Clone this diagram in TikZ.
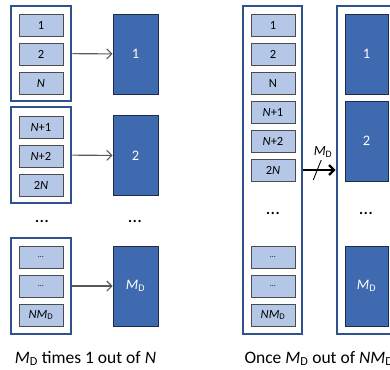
\documentclass[tikz,border=0pt]{standalone}
\usepackage{fontspec}
\setmainfont{Carlito}
\usetikzlibrary{arrows.meta}
\definecolor{framecol}{RGB}{47,82,143}
\definecolor{itemcol}{RGB}{180,199,231}
\definecolor{blockcol}{RGB}{64,106,176}
\definecolor{blockline}{RGB}{30,45,75}
\newcommand{\MDsub}{\textit{M}\textsubscript{D}}
\begin{document}
\begin{tikzpicture}
        [x=1pt, y=-1pt,
         frame_style/.style={draw=framecol, line width=2.6pt, fill=white, inner sep=0pt},
         item_style/.style={rectangle, draw=black!70, fill=itemcol, line width=0.9pt,
                            minimum width=44pt, minimum height=22pt, inner sep=0pt, font=\fontsize{12.5}{13}\selectfont},
         block_style/.style={rectangle, draw=blockline, fill=blockcol, line width=0.9pt,
                             text=white, minimum width=45pt, minimum height=80pt, inner sep=0pt, font=\fontsize{14.5}{15}\selectfont},
         dots_style/.style={font=\fontsize{19}{19}\selectfont},
         edge_style/.style={draw=black!65, line width=1.1pt, -{Straight Barb[length=5pt,width=10pt]}},
         bus_style/.style={draw=black, line width=2.4pt, -{Straight Barb[length=5pt,width=10pt]}}]
            \useasboundingbox (0,0) rectangle (390,369);
            \clip (0,0) rectangle (390,369);
            % left: M_D times 1 out of N
            \node[frame_style, minimum width=60pt, minimum height=95pt] (g1) at (41, 53.5) {};
            \node[frame_style, minimum width=60pt, minimum height=96pt] (g2) at (41, 155) {};
            \node[frame_style, minimum width=60pt, minimum height=96pt] (g3) at (41, 286) {};
            \node[item_style] (a1) at (41, 25)  {1};
            \node[item_style] (a2) at (41, 54)  {2};
            \node[item_style] (a3) at (41, 83)  {\textit{N}};
            \node[item_style] (a4) at (41, 127) {\textit{N}+1};
            \node[item_style] (a5) at (41, 156) {\textit{N}+2};
            \node[item_style] (a6) at (41, 185) {2\textit{N}};
            \node[item_style] (a7) at (41, 257.5) {\footnotesize\ldots};
            \node[item_style] (a8) at (41, 286) {\footnotesize\ldots};
            \node[item_style] (a9) at (41, 315) {\textit{NM}\textsubscript{D}};
            \node[block_style] (b1) at (135.5, 54)  {1};
            \node[block_style] (b2) at (135.5, 155.5) {2};
            \node[block_style] (b3) at (135.5, 286) {\MDsub};
            \node[dots_style] (d1) at (42, 221)  {\ldots};
            \node[dots_style] (d2) at (135, 221) {\ldots};
            \draw[edge_style]  (g1) edge (b1);
            \draw[edge_style]  (g2) edge (b2);
            \draw[edge_style]  (g3) edge (b3);
            \node[anchor=base, font=\fontsize{17.5}{18}\selectfont] (c1) at (85.5, 363) {\MDsub{} times 1 out of \textit{N}};
            % right: once M_D out of NM_D
            \node[frame_style, minimum width=59pt, minimum height=328pt] (lf) at (272.5, 170) {};
            \node[frame_style, minimum width=62pt, minimum height=328pt] (rf) at (368, 170) {};
            \node[item_style] (r1) at (273, 25)  {1};
            \node[item_style] (r2) at (273, 54)  {2};
            \node[item_style] (r3) at (273, 83)  {N};
            \node[item_style] (r4) at (273, 112) {\textit{N}+1};
            \node[item_style] (r5) at (273, 141) {\textit{N}+2};
            \node[item_style] (r6) at (273, 170) {2\textit{N}};
            \node[item_style] (r7) at (273, 257.5) {\footnotesize\ldots};
            \node[item_style] (r8) at (273, 286) {\footnotesize\ldots};
            \node[item_style] (r9) at (273, 315) {\textit{NM}\textsubscript{D}};
            \node[block_style, minimum width=43pt] (s1) at (366.5, 54)  {1};
            \node[block_style, minimum width=43pt] (s2) at (366.5, 141) {2};
            \node[block_style, minimum width=43pt] (s3) at (366.5, 286) {\MDsub};
            \node[dots_style] (d3) at (273, 213) {\ldots};
            \node[dots_style] (d4) at (366, 213) {\ldots};
            \draw[bus_style]  (lf) -- node[pos=0.43] (cut) {} (rf);
            \draw[line width=0.9pt] (cut) ++(-4,10) -- ++(8,-20);
            \node[font=\fontsize{14}{15}\selectfont] (mlab) at (323, 152) {\MDsub};
            \node[anchor=base west, font=\fontsize{17.5}{18}\selectfont] (c2) at (241, 363) {Once \MDsub{} out of \textit{NM}\textsubscript{D}};
        \end{tikzpicture}
\end{document}
